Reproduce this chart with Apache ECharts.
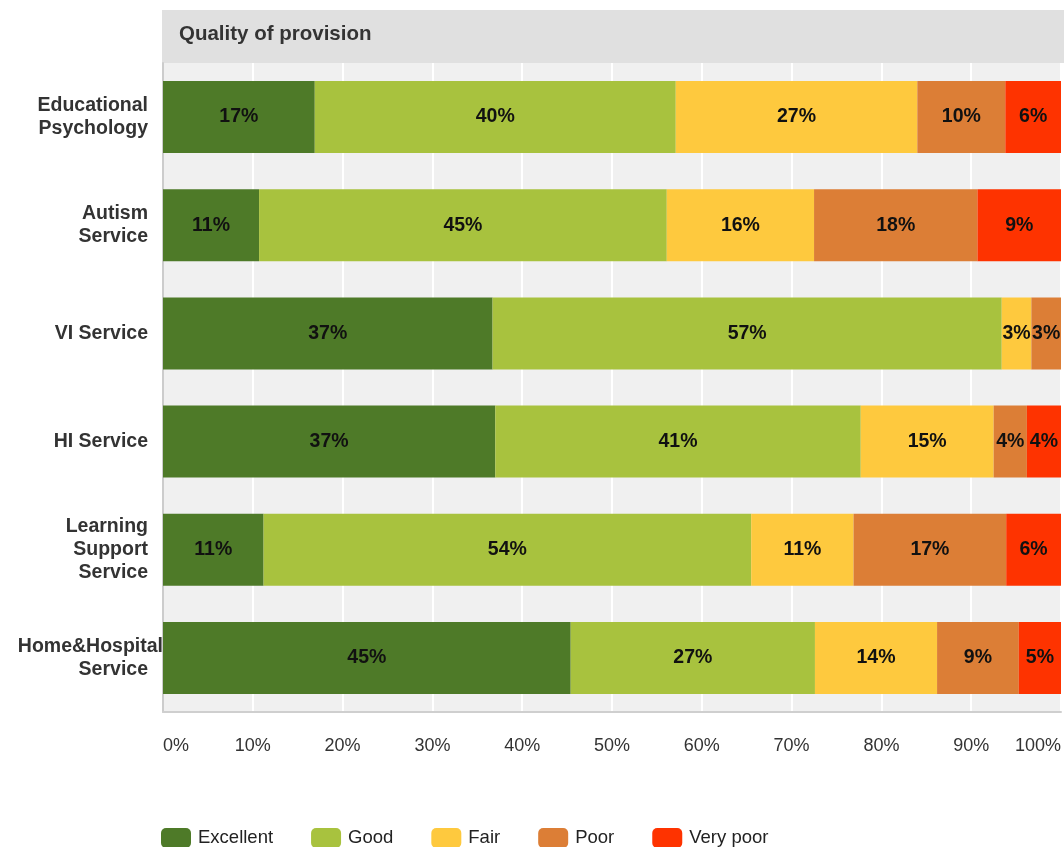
<!DOCTYPE html>
<html>
<head>
<meta charset="utf-8">
<script src="https://cdn.jsdelivr.net/npm/echarts@6/dist/echarts.min.js"></script>
<style>
html,body{margin:0;padding:0;background:#fff;}
#chart{width:1064px;height:847px;}
</style>
</head>
<body>
<div id="chart"></div>
<script>
const categories = ['Educational\nPsychology', 'Autism\nService', 'VI Service', 'HI Service', 'Learning\nSupport\nService', 'Home&Hospital\nService'];
const seriesNames = ['Excellent', 'Good', 'Fair', 'Poor', 'Very poor'];
const excellent = [16.9, 10.7, 36.7, 37.0, 11.2, 45.4];
const good      = [40.2, 45.4, 56.7, 40.7, 54.3, 27.2];
const fair      = [26.9, 16.4, 3.3, 14.8, 11.4, 13.6];
const poor      = [9.8, 18.2, 3.3, 3.7, 17.0, 9.1];
const veryPoor  = [6.2, 9.3, 0, 3.8, 6.1, 4.7];
const xTicks = [0, 10, 20, 30, 40, 50, 60, 70, 80, 90, 100];
const colors = ['#4e7a28', '#a8c23e', '#fec93e', '#dc7e36', '#fe3300'];
const titleText = 'Quality of provision';

const allData = [excellent, good, fair, poor, veryPoor];
const FONT = '"Liberation Sans", Arial, sans-serif';

const chart = echarts.init(document.getElementById('chart'));
chart.setOption({
  animation: false,
  backgroundColor: '#ffffff',
  color: colors,
  graphic: [{
    type: 'rect', left: 162, top: 10,
    shape: { width: 902, height: 53 },
    style: { fill: '#e0e0e0' }, z: 0
  }, {
    type: 'text', x: 179, y: 34,
    style: { text: titleText, fill: '#333', font: 'bold 20.5px ' + FONT, verticalAlign: 'middle' }, z: 1
  }],
  legend: {
    bottom: -6, left: 156,
    itemWidth: 30, itemHeight: 20, itemGap: 38,
    icon: 'roundRect',
    textStyle: { fontSize: 18.5, color: '#222', fontFamily: FONT, padding: [0, 0, 0, 2] },
    data: seriesNames
  },
  grid: {
    left: 163, right: 1, top: 63, bottom: 135,
    show: true, backgroundColor: '#f0f0f0', borderWidth: 0
  },
  xAxis: {
    type: 'value', min: 0, max: 100, interval: 10,
    axisLine: { show: true, lineStyle: { color: '#cfcfcf', width: 2 } },
    axisTick: { show: false },
    splitLine: { show: true, lineStyle: { color: '#ffffff', width: 2 } },
    axisLabel: {
      margin: 25, fontSize: 18, color: '#333', fontFamily: FONT,
      alignMinLabel: 'left', alignMaxLabel: 'right',
      formatter: v => xTicks.includes(v) ? v + '%' : ''
    }
  },
  yAxis: {
    type: 'category', inverse: true, data: categories,
    axisLine: { show: true, lineStyle: { color: '#cccccc', width: 2 } },
    axisTick: { show: false },
    axisLabel: {
      margin: 0, fontFamily: FONT,
      formatter: function (v) {
        return v.split('\n').map(l => l.length > 12 ? '{w|' + l + '}' : '{n|' + l + '}').join('\n');
      },
      rich: {
        n: { fontSize: 19.5, fontWeight: 'bold', color: '#333', lineHeight: 23, padding: [0, 15, 0, 0], fontFamily: FONT },
        w: { fontSize: 19.5, fontWeight: 'bold', color: '#333', lineHeight: 23, padding: [0, 0, 0, 0], fontFamily: FONT }
      }
    }
  },
  series: seriesNames.map((name, i) => ({
    name, type: 'bar', stack: 'total', barWidth: 72,
    data: allData[i],
    itemStyle: { color: colors[i] },
    label: {
      show: true, position: 'inside',
      fontSize: 19.5, fontWeight: 'bold', color: '#111', fontFamily: FONT,
      formatter: p => p.value > 0 ? Math.round(p.value) + '%' : ''
    }
  }))
});
</script>
</body>
</html>
